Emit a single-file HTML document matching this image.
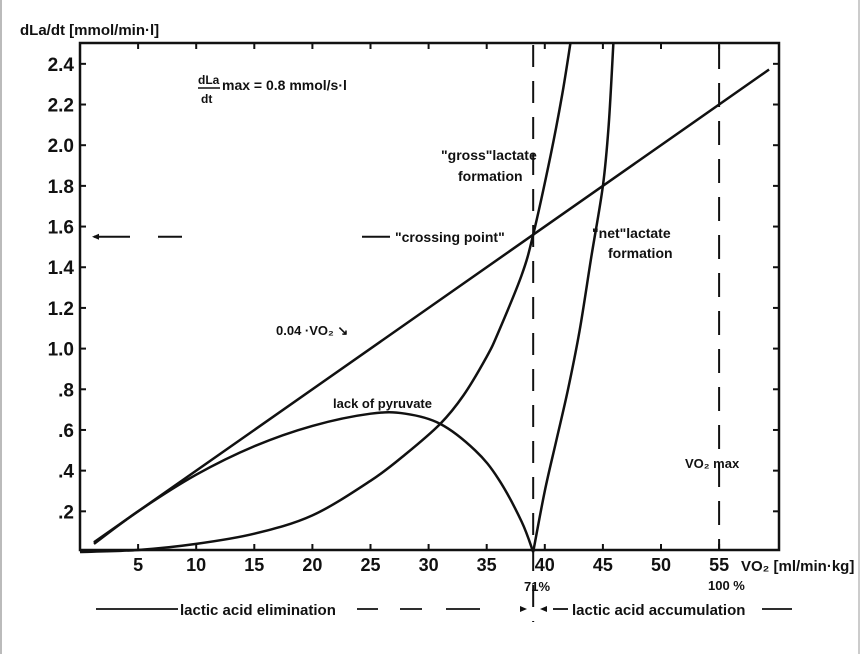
<!DOCTYPE html>
<html><head><meta charset="utf-8"><style>
html,body{margin:0;padding:0;background:#fff;}
svg{display:block;font-family:"Liberation Sans",sans-serif;}
text{fill:#111;}
</style></head><body>
<svg width="864" height="654" viewBox="0 0 864 654">
<rect x="0" y="0" width="2" height="654" fill="#bbb"/>
<rect x="858" y="0" width="2" height="654" fill="#ccc"/>
<g id="chart"></g>
</svg>
<script>
const xTicks=[5,10,15,20,25,30,35,40,45,50,55];
const yTicks=[0.2,0.4,0.6,0.8,1.0,1.2,1.4,1.6,1.8,2.0,2.2,2.4];
const yTickLabels=[".2",".4",".6",".8","1.0","1.2","1.4","1.6","1.8","2.0","2.2","2.4"];
const lineX=[1.2,59.3];
const lineY=[0.048,2.372];
const grossX=[0,5,10,15,20,25,28,31,33,35,36,38,39,40.5,41.5,42.2];
const grossY=[0,0.01,0.04,0.09,0.18,0.35,0.48,0.63,0.77,0.96,1.08,1.36,1.56,1.95,2.25,2.5];
const netX=[39,40,41,42,43,44,45,45.5,45.9];
const netY=[0,0.3,0.55,0.8,1.09,1.45,1.8,2.1,2.5];
const pyrX=[1.2,5,10,15,20,25,28,31,34,36,38,39];
const pyrY=[0.04,0.2,0.38,0.52,0.62,0.68,0.68,0.63,0.5,0.36,0.15,0];
const crossX=39, crossY=1.56, vo2maxX=55;

const X0=80,XS=11.62,Y0=552,YS=203.4;
const sx=v=>X0+v*XS, sy=v=>Y0-v*YS;
const g=document.getElementById('chart');
const NS='http://www.w3.org/2000/svg';
function mk(tag,attrs){const e=document.createElementNS(NS,tag);for(const k in attrs)e.setAttribute(k,attrs[k]);g.appendChild(e);return e;}
function txt(x,y,s,size,anchor){const t=mk('text',{x:x,y:y,'font-size':size||15,'text-anchor':anchor||'start','font-weight':'bold'});t.textContent=s;return t;}

const box=mk('rect',{x:80,y:43,width:699,height:507,fill:'none',stroke:'#111','stroke-width':2.5});



yTicks.forEach((v,i)=>{
  const t=mk('line',{x1:80,x2:86,y1:sy(v),y2:sy(v),stroke:'#111','stroke-width':2});
  
  
  const r=mk('line',{x1:773,x2:779,y1:sy(v),y2:sy(v),stroke:'#111','stroke-width':2});
  
  
  const l=txt(74,sy(v)+7,yTickLabels[i],19,'end');
  
  
});
xTicks.forEach(v=>{
  const t=mk('line',{x1:sx(v),x2:sx(v),y1:550,y2:544,stroke:'#111','stroke-width':2});
  
  
  const tt=mk('line',{x1:sx(v),x2:sx(v),y1:43,y2:49,stroke:'#111','stroke-width':2});
  
  
  const l=txt(sx(v),571,String(v),18,'middle');
  
  
});

function poly(xs,ys,name){
  const n=xs.length, pts=xs.map((x,i)=>[sx(x),sy(ys[i])]);
  let d='M'+pts[0][0]+','+pts[0][1];
  for(let i=0;i<n-1;i++){
    const p0=pts[Math.max(0,i-1)],p1=pts[i],p2=pts[i+1],p3=pts[Math.min(n-1,i+2)];
    const c1=[p1[0]+(p2[0]-p0[0])/6,p1[1]+(p2[1]-p0[1])/6];
    const c2=[p2[0]-(p3[0]-p1[0])/6,p2[1]-(p3[1]-p1[1])/6];
    d+=' C'+c1[0]+','+c1[1]+' '+c2[0]+','+c2[1]+' '+p2[0]+','+p2[1];
  }
  const p=mk('path',{d:d,fill:'none',stroke:'#111','stroke-width':2.5});
  
  
}
poly(lineX,lineY,'line-0.04-vo2');
poly(grossX,grossY,'gross-lactate-curve');
poly(netX,netY,'net-lactate-curve');
poly(pyrX,pyrY,'lack-of-pyruvate-curve');

const d1=mk('line',{x1:sx(crossX),x2:sx(crossX),y1:45,y2:622,stroke:'#111','stroke-width':2,'stroke-dasharray':'22 14'});


const d2=mk('line',{x1:sx(vo2maxX),x2:sx(vo2maxX),y1:45,y2:550,stroke:'#111','stroke-width':2,'stroke-dasharray':'24 14'});



const hy=sy(crossY);
[[94,130],[158,182],[362,390]].forEach(s=>{
  const l=mk('line',{x1:s[0],x2:s[1],y1:hy+2,y2:hy+2,stroke:'#111','stroke-width':2});
  
  
});
mk('path',{d:`M92,${hy+2} l7,-3 v6 z`,fill:'#111'});

const labels=[
 [20,35,'dLa/dt [mmol/min·l]',15,'y-axis-title'],
 [222,90,'max = 0.8 mmol/s·l',14,'formula-label'],
 [395,242,'"crossing point"',14,'crossing-point-label'],
 [441,160,'"gross"lactate',14,'gross-label-1'],
 [458,181,'formation',14,'gross-label-2'],
 [592,238,'"net"lactate',14,'net-label-1'],
 [608,258,'formation',14,'net-label-2'],
 [276,335,'0.04 ·VO₂ ↘',13,'line-label'],
 [333,408,'lack of pyruvate',13,'pyruvate-label'],
 [685,468,'VO₂ max',13,'vo2max-label'],
 [741,571,'VO₂ [ml/min·kg]',15,'x-axis-title'],
 [524,591,'71%',13,'pct-71-label'],
 [708,590,'100 %',13,'pct-100-label'],
 [180,615,'lactic acid elimination',15,'elimination-label'],
 [572,615,'lactic acid accumulation',15,'accumulation-label']
];
labels.forEach(a=>{const t=txt(a[0],a[1],a[2],a[3]);});
const f1=txt(198,84,'dLa',12);
mk('line',{x1:198,x2:220,y1:88,y2:88,stroke:'#111','stroke-width':1.5});
const f2=txt(201,103,'dt',12);

[[96,178],[357,378],[400,422],[446,480],[553,568],[762,792]].forEach(s=>{
  const l=mk('line',{x1:s[0],x2:s[1],y1:609,y2:609,stroke:'#111','stroke-width':1.8});
  
  
});
mk('path',{d:'M527,609 l-7,-3 v6 z',fill:'#111'});
mk('path',{d:'M540,609 l7,-3 v6 z',fill:'#111'});
</script>
</body></html>
